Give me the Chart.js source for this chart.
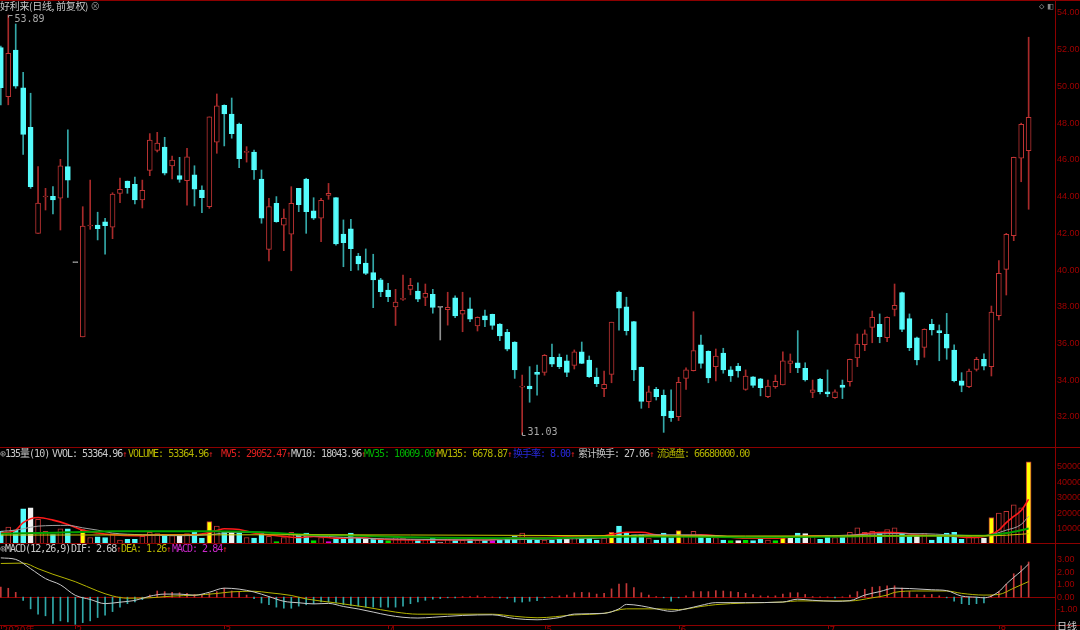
<!DOCTYPE html>
<html>
<head>
<meta charset="utf-8">
<script src="https://cdn.jsdelivr.net/npm/chart.js@4.4.1/dist/chart.umd.min.js"></script>
<style>
  body { margin: 0; background: #000; width: 1080px; height: 630px; overflow: hidden; position: relative; }
  canvas { position: absolute; left: 0; }
  .hl { position: absolute; left: 0; width: 1080px; height: 1px; background: #8c0000; }
  .vl { position: absolute; top: 0; left: 1055px; width: 1px; height: 630px; background: #8c0000; }
  .t { position: absolute; font: 10px "DejaVu Sans Mono", "Noto Sans CJK SC", monospace; line-height: 10px; white-space: nowrap; letter-spacing: -1px; z-index: 5; }
  .up { color: #e02020; font-size: 9px; letter-spacing: 0; }
</style>
</head>
<body>
<canvas id="price" width="1080" height="447" style="top:0"></canvas>
<canvas id="vol" width="1080" height="86" style="top:458px"></canvas>
<canvas id="macd" width="1080" height="75" style="top:555px"></canvas>
<div class="hl" style="top:0"></div>
<div class="hl" style="top:447px"></div>
<div class="hl" style="top:543px"></div>
<div class="hl" style="top:625px"></div>
<div class="vl"></div>
<div class="t" style="left:0;top:1px;color:#c8c8c8;font-family:'Noto Sans CJK SC';letter-spacing:-0.3px">好利来(日线, 前复权) <span style="color:#888">⊗</span></div>
<div class="t" style="left:1039px;top:1px;color:#888;font-size:9px">◇ ◧</div>
<div class="t" style="left:1057px;top:621px;color:#d0d0d0;font-family:'Noto Sans CJK SC';letter-spacing:0">日线</div>
<script>
"use strict";

// 好利来 日线 (前复权), 139 根 K 线
const opens = [52.11,49.44,51.98,49.93,47.77,42.00,43.98,44.02,43.91,45.63,
  40.40,36.36,42.40,42.45,42.62,42.33,44.18,44.85,44.67,43.82,
  45.43,46.52,46.70,45.67,45.14,44.87,45.18,44.36,43.45,46.96,
  48.97,48.50,47.95,46.41,46.43,44.96,41.13,43.63,42.44,41.95,
  44.45,44.96,43.22,42.83,44.07,43.94,41.96,42.24,40.76,40.38,
  39.86,39.47,38.91,37.99,38.40,38.95,38.86,38.51,38.68,37.97,
  37.84,38.48,37.59,37.89,36.95,37.50,37.59,37.06,36.61,36.08,
  33.62,33.68,34.43,34.43,35.25,35.25,35.05,34.81,35.54,35.10,
  34.17,33.54,34.32,38.80,38.00,37.19,34.70,32.83,33.50,33.18,
  32.32,32.01,34.10,34.52,35.92,35.57,34.74,35.48,34.56,34.77,
  33.50,34.19,34.07,33.10,33.65,33.75,34.92,34.94,34.65,33.34,
  34.05,33.37,33.05,33.74,33.92,35.21,35.93,36.88,37.04,36.31,
  37.86,38.77,37.35,36.31,35.79,37.04,36.70,36.50,35.64,33.96,
  33.65,34.59,35.14,34.74,37.51,40.04,41.87,46.09,46.50];
const highs = [52.20,53.89,53.40,50.77,49.63,45.63,44.45,44.54,46.03,47.63,
  40.40,43.45,44.90,43.15,42.82,44.21,45.01,44.85,45.07,44.90,
  47.43,47.50,47.23,46.21,46.14,46.63,45.68,44.58,48.34,49.59,
  49.00,49.37,48.00,46.72,46.54,45.45,43.90,44.00,43.32,44.54,
  44.45,45.00,43.94,43.91,44.72,43.95,42.73,42.76,40.91,41.15,
  40.86,39.55,39.28,38.95,39.73,39.55,39.31,39.24,38.95,37.97,
  38.79,38.59,38.79,38.48,37.45,37.82,37.60,37.08,36.77,36.10,
  34.28,34.74,34.83,35.40,35.97,35.43,35.37,35.65,36.08,35.32,
  34.66,34.50,37.16,38.85,38.52,37.20,34.72,33.68,33.61,33.47,
  33.47,34.16,34.68,37.73,36.46,35.60,35.70,35.74,34.74,34.92,
  34.56,34.20,34.10,34.01,34.28,35.54,35.43,36.70,34.95,34.01,
  34.10,34.56,33.47,34.01,35.15,36.52,36.74,37.77,37.61,37.45,
  39.24,38.80,37.61,36.35,36.80,37.32,37.01,37.64,35.92,34.41,
  34.60,35.25,35.43,38.04,40.51,42.00,46.15,48.00,52.68];
const lows = [48.99,49.00,49.90,46.30,44.45,42.00,43.27,43.05,42.18,43.96,
  40.40,36.36,42.22,41.64,40.86,41.71,43.67,44.18,43.60,43.38,
  45.14,46.43,45.18,44.96,44.78,43.54,43.49,43.12,43.36,46.36,
  46.76,47.18,45.57,45.88,44.94,42.55,40.50,42.60,41.05,39.96,
  43.18,42.00,42.75,41.54,43.85,41.36,40.18,39.96,40.00,39.75,
  37.95,38.55,38.28,36.98,38.35,38.65,38.28,38.06,37.65,36.19,
  37.00,37.41,36.64,37.19,36.68,36.91,36.77,36.15,35.60,34.10,
  31.03,32.80,33.19,34.27,34.74,34.63,34.19,34.61,34.90,34.15,
  33.65,33.10,33.86,36.73,36.46,33.97,32.47,32.50,32.92,31.16,
  31.75,31.80,33.50,34.50,34.65,33.86,33.96,34.38,33.93,34.16,
  33.45,33.61,33.15,33.05,33.56,33.75,34.41,34.41,33.95,33.05,
  33.25,33.10,33.01,33.00,33.68,34.74,35.61,36.04,36.04,36.10,
  37.50,36.64,35.61,34.83,35.25,36.46,35.06,35.14,33.90,33.37,
  33.60,34.50,34.56,34.23,37.28,38.64,41.60,44.81,43.31];
const closes = [49.93,51.80,50.02,47.39,44.54,43.65,44.02,43.82,45.67,44.89,
  40.40,42.40,42.45,42.25,42.42,44.14,44.40,44.48,43.82,44.34,
  47.08,46.92,45.27,45.99,44.94,46.16,44.41,43.94,48.34,48.95,
  48.50,47.43,46.06,46.45,45.45,42.83,43.45,42.63,42.83,43.63,
  43.56,43.18,42.82,43.80,44.18,41.42,41.49,41.16,40.33,39.82,
  39.46,38.82,38.55,38.26,38.42,39.17,38.42,38.73,37.97,37.97,
  37.97,37.50,37.81,37.32,37.43,37.29,36.99,36.41,35.69,34.56,
  33.68,33.53,34.32,35.36,34.87,34.74,34.43,35.54,34.92,34.19,
  33.81,33.78,37.16,37.92,36.70,34.56,32.85,33.37,33.10,32.05,
  31.96,33.89,34.56,35.61,34.92,34.12,35.32,34.56,34.23,34.50,
  34.23,33.72,33.59,33.68,33.94,35.05,35.05,34.67,34.01,33.47,
  33.37,33.25,33.37,33.61,35.14,35.97,36.52,37.43,36.37,37.43,
  38.08,36.77,35.77,35.10,36.77,36.74,36.59,35.74,33.97,33.72,
  34.50,35.14,34.77,37.71,39.82,41.95,46.14,47.94,48.32];
const volumes = [8250,11000,9000,22800,23500,16100,8250,6040,9870,9870,
  300,9400,4200,4600,4200,6700,2600,3100,3100,4900,
  7600,6700,6000,5400,5400,6700,7600,3800,14500,11600,
  8250,8250,7100,4200,3800,7600,4900,1500,4200,7600,
  6000,7100,2200,4200,1500,3800,3100,7100,3800,3100,
  3800,3100,2200,4200,3800,3100,2600,3100,3800,1200,
  3100,2600,2600,3100,2600,2600,2200,2600,3100,4900,
  7100,3100,2600,2600,2600,3100,3100,4900,4900,3800,
  2600,3800,7600,11600,7100,6000,6000,3800,2600,7100,
  4200,8700,6000,8200,5400,3800,4200,2600,2200,2200,
  2400,2200,3100,2600,2200,4900,4900,7100,6700,4900,
  3100,5400,4200,4600,7600,10500,7600,8200,6700,9400,
  10500,7100,5400,5400,6700,2600,5400,7100,7600,3100,
  4900,4200,3800,17200,20100,21200,25500,23500,53364.96];

// 成交量均线 (读图取样点: 所在 K 线序号 / 数值)
const mv5At = [0,2,3,5,7,9,11,13,15,18,22,26,29,30,32,34,37,40,42,45,48,51,55,60,65,69,72,77,81,84,86,88,90,92,94,97,100,104,107,109,113,116,119,121,123,127,130,132,134,135,136,137,138];
const mv5 = [7100,9000,13900,17200,15500,12700,9000,7100,6000,5400,6000,6000,8700,9900,9400,7100,5400,4200,4900,3800,4200,3100,2600,2600,2600,4200,4200,4900,5400,7600,7600,6000,4900,5400,6000,4900,3800,3800,4900,5400,4900,6700,7600,7100,6000,5400,4200,4900,9000,13900,17900,21700,29052.47];
const mv10At = [0,2,3,5,9,11,13,15,19,24,28,31,35,37,39,44,48,55,65,72,82,86,91,96,100,109,114,119,124,127,132,135,137,138];
const mv10 = [8250,9000,9900,11600,12100,10500,9000,7100,6000,5400,6000,7600,7600,7100,6000,4900,3800,3100,2600,3100,4200,6000,6000,5400,4200,4900,5800,6700,6700,6000,5400,9000,12700,18043.96];
const mv35At = [0,5,9,15,28,35,41,48,55,72,86,100,114,123,132,135,138];
const mv35 = [6700,7100,7600,8250,8250,7600,6000,5400,4400,3800,4900,4400,4900,5400,5400,7100,10009.00];
const mv135At = [0,40,70,100,132,135,137,138];
const mv135 = [5800,6000,5600,5200,5300,5700,6350,6678.87];

// MACD(12,26,9)
const difAt = [0,2,4,6,8,10,12,14,16,18,20,22,24,26,28,30,32,34,36,38,40,42,44,46,48,50,52,54,56,58,62,66,69,72,75,77,81,83,84,86,88,90,92,94,96,100,105,107,109,112,114,116,118,120,122,125,127,129,131,132,134,135,136,137,138];
const dif = [3.17,3.05,2.3,1.5,1.0,0.15,-0.18,-0.52,-0.4,-0.26,0.08,0.25,0.25,0.16,0.4,0.73,0.65,0.42,0.05,-0.33,-0.45,-0.54,-0.5,-0.75,-0.95,-1.2,-1.45,-1.62,-1.68,-1.62,-1.47,-1.42,-1.72,-1.82,-1.64,-1.36,-1.3,-0.94,-0.58,-0.7,-0.94,-1.14,-0.94,-0.66,-0.44,-0.44,-0.39,-0.16,-0.25,-0.33,-0.28,0.17,0.45,0.73,0.7,0.6,0.53,0.09,0.0,-0.05,0.45,1.06,1.6,2.1,2.68];
const deaAt = [0,3,5,7,10,13,15,17,20,23,26,29,31,34,36,39,41,45,49,53,56,60,66,69,72,77,81,84,88,91,94,96,100,105,107,114,117,119,120,123,127,129,132,134,136,138];
const dea = [2.72,2.75,2.3,1.85,1.25,0.5,0.1,-0.08,-0.05,0.09,0.16,0.3,0.43,0.48,0.36,0.14,-0.14,-0.46,-0.8,-1.2,-1.37,-1.37,-1.37,-1.54,-1.66,-1.43,-1.3,-0.94,-0.94,-1.0,-0.75,-0.6,-0.47,-0.39,-0.3,-0.3,-0.05,0.17,0.39,0.5,0.5,0.31,0.17,0.22,0.73,1.26];
const macdHist = [0.81,0.72,0.39,-0.25,-0.94,-1.36,-1.5,-2.11,-1.91,-2.0,
  -2.19,-2.05,-1.91,-1.64,-1.44,-1.16,-0.8,-0.52,-0.39,-0.2,
  0.17,0.5,0.45,0.39,0.36,0.31,0.22,0.17,0.31,0.45,
  0.72,0.5,0.39,0.17,-0.11,-0.47,-0.61,-0.8,-0.89,-0.89,
  -0.72,-0.61,-0.52,-0.39,-0.39,-0.47,-0.61,-0.66,-0.72,-0.8,
  -0.8,-0.8,-0.8,-0.8,-0.72,-0.52,-0.39,-0.25,-0.16,-0.11,
  -0.05,-0.05,0.05,0.05,0.11,0.05,0.02,-0.05,-0.1,-0.39,
  -0.39,-0.33,-0.27,-0.05,0.05,0.11,0.17,0.36,0.39,0.36,
  0.25,0.31,0.67,1.06,1.1,0.78,0.36,0.17,0.05,-0.05,
  -0.33,-0.05,0.11,0.45,0.45,0.45,0.53,0.5,0.45,0.39,
  0.31,0.22,0.11,0.09,0.11,0.25,0.36,0.36,0.22,0.05,
  0.03,0.03,-0.05,0.03,0.17,0.45,0.64,0.81,0.86,0.92,
  0.92,0.73,0.45,0.22,0.17,0.22,0.11,-0.05,-0.33,-0.52,
  -0.61,-0.52,-0.47,0.17,0.45,1.06,1.89,2.53,2.84];

// 坐标轴刻度
const priceTicks = [32,34,36,38,40,42,44,46,48,50,52,54];
const volTicks = [10000,20000,30000,40000,50000];
const macdTicks = [-1,0,1,2,3];
const monthAt = [0,10,30,52,73,91,111,134];
const monthLabels = ["2020年","2","3","4","5","6","7","8"];

// 量柱特殊着色
const yellowVol = [11,28,82,91,105,133,138];
const whiteVol = [4,24,31,49,76,99,106,108,123,132];
const greenVol = [37,42,52,98,100,104];
const magentaVol = [44,66];

const RED = "#c03434", RED_WICK = "#a82a2a", CYAN = "#54fcfc", CYAN_WICK = "#34a8a8";
const FLAT = "#909090", AXIS_TEXT = "#a00000";

const idx = closes.map((c, i) => i);
const dir = idx.map(i => closes[i] > opens[i] ? 1 : closes[i] < opens[i] ? -1 : 0);
const pts = (at, vals) => at.map((k, j) => ({ x: k, y: vals[j] }));

const xScale = { type: "linear", offset: false, min: -0.11, max: 141.54, display: false };
const baseOpts = {
  responsive: false,
  animation: false,
  devicePixelRatio: 1,
  events: [],
  layout: { padding: { left: 0, right: 25, top: 0, bottom: 0 } },
  plugins: { legend: { display: false }, tooltip: { enabled: false } }
};

function rightLabels(chart, ticks, fmt) {
  const { ctx, scales: { y }, chartArea } = chart;
  ctx.save();
  ctx.font = '9px "Liberation Sans"';
  ctx.fillStyle = AXIS_TEXT;
  ctx.textBaseline = "middle";
  ticks.forEach(v => ctx.fillText(fmt(v), chartArea.right + 2, y.getPixelForValue(v)));
  ctx.restore();
}

// ---------- K 线 ----------
const priceDecor = {
  id: "priceDecor",
  afterDraw(chart) {
    rightLabels(chart, priceTicks, v => v.toFixed(2));
    const { ctx, scales: { x, y } } = chart;
    const hi = highs.indexOf(Math.max(...highs));
    const lo = lows.indexOf(Math.min(...lows));
    ctx.save();
    ctx.strokeStyle = "#a0a0a0";
    ctx.fillStyle = "#a8a8a8";
    ctx.font = '10px "DejaVu Sans Mono"';
    ctx.textBaseline = "middle";
    let px = Math.round(x.getPixelForValue(hi)) + 0.5, py = Math.round(y.getPixelForValue(highs[hi])) + 0.5;
    ctx.beginPath(); ctx.moveTo(px, py + 2); ctx.lineTo(px, py); ctx.lineTo(px + 4, py); ctx.stroke();
    ctx.fillText(highs[hi].toFixed(2), px + 6, py + 4);
    px = Math.round(x.getPixelForValue(lo)) + 0.5; py = Math.round(y.getPixelForValue(lows[lo])) + 0.5;
    ctx.beginPath(); ctx.moveTo(px, py - 3); ctx.lineTo(px, py); ctx.lineTo(px + 3, py); ctx.stroke();
    ctx.fillText(lows[lo].toFixed(2), px + 5, py - 3);
    ctx.restore();
  }
};

new Chart(document.getElementById("price"), {
  type: "bar",
  data: {
    datasets: [
      {
        data: idx.map(i => ({ x: i, y: [lows[i], highs[i]] })),
        backgroundColor: idx.map(i => dir[i] > 0 ? RED_WICK : dir[i] < 0 ? CYAN_WICK : FLAT),
        borderWidth: 0, barThickness: 1, grouped: false, order: 2
      },
      {
        data: idx.map(i => ({ x: i, y: [opens[i], closes[i]] })),
        backgroundColor: idx.map(i => dir[i] > 0 ? "#000" : dir[i] < 0 ? CYAN : FLAT),
        borderColor: idx.map(i => dir[i] > 0 ? RED : dir[i] < 0 ? CYAN : FLAT),
        borderWidth: 1, borderSkipped: false, barThickness: 5, minBarLength: 1, grouped: false, order: 1
      }
    ]
  },
  options: Object.assign({}, baseOpts, {
    scales: { x: xScale, y: { display: false, min: 30.362, max: 54.708 } }
  }),
  plugins: [priceDecor]
});

// ---------- 成交量 ----------
function volFill(i) {
  if (yellowVol.includes(i)) return "#ffff00";
  if (whiteVol.includes(i)) return "#f0f0f0";
  if (greenVol.includes(i)) return "#00e000";
  if (magentaVol.includes(i)) return "#e000e0";
  return dir[i] > 0 ? "#000" : dir[i] < 0 ? CYAN : FLAT;
}
function volEdge(i) {
  if (yellowVol.includes(i)) return RED;
  if (whiteVol.includes(i) || greenVol.includes(i) || magentaVol.includes(i)) return volFill(i);
  return dir[i] > 0 ? RED : dir[i] < 0 ? CYAN : FLAT;
}
const mvLine = (data, color, w) => ({
  type: "line", data, borderColor: color, borderWidth: w, pointRadius: 0,
  cubicInterpolationMode: "monotone", order: 0
});

new Chart(document.getElementById("vol"), {
  type: "bar",
  data: {
    datasets: [
      {
        data: idx.map(i => ({ x: i, y: volumes[i] })),
        backgroundColor: idx.map(volFill),
        borderColor: idx.map(volEdge),
        borderWidth: 1, borderSkipped: false, barThickness: 5, grouped: false, order: 1
      },
      mvLine(pts(mv135At, mv135), "#c8c800", 1),
      mvLine(pts(mv35At, mv35), "#00a000", 2),
      mvLine(pts(mv10At, mv10), "#a0a0a0", 1),
      mvLine(pts(mv5At, mv5), "#ff1a1a", 1.6)
    ]
  },
  options: Object.assign({}, baseOpts, {
    scales: { x: xScale, y: { display: false, min: 0, max: 55844 } }
  }),
  plugins: [{ id: "volAxis", afterDraw: c => rightLabels(c, volTicks, v => String(v)) }]
});

// ---------- MACD ----------
const macdDecor = {
  id: "macdDecor",
  beforeDatasetsDraw(chart) {
    const { ctx, scales: { y }, chartArea } = chart;
    const y0 = Math.round(y.getPixelForValue(0)) + 0.5;
    ctx.save();
    ctx.strokeStyle = "#8c0000";
    ctx.beginPath(); ctx.moveTo(chartArea.left, y0); ctx.lineTo(chartArea.right, y0); ctx.stroke();
    ctx.restore();
  },
  afterDraw(chart) {
    rightLabels(chart, macdTicks, v => v.toFixed(2));
    const { ctx, scales: { x }, chartArea } = chart;
    ctx.save();
    ctx.strokeStyle = "#8c0000";
    ctx.fillStyle = AXIS_TEXT;
    ctx.font = '9px "DejaVu Sans", "Noto Sans CJK SC"';
    ctx.textBaseline = "top";
    monthAt.forEach((k, j) => {
      const px = Math.round(x.getPixelForValue(k)) + 0.5;
      ctx.beginPath(); ctx.moveTo(px, chartArea.bottom); ctx.lineTo(px, chartArea.bottom + 4); ctx.stroke();
      ctx.fillText(monthLabels[j], Math.max(px + 1, 0), chartArea.bottom + 1);
    });
    ctx.restore();
  }
};

new Chart(document.getElementById("macd"), {
  type: "bar",
  data: {
    datasets: [
      {
        data: idx.map(i => ({ x: i, y: macdHist[i] })),
        backgroundColor: idx.map(i => macdHist[i] >= 0 ? "#c43838" : "#30a8a8"),
        borderWidth: 0, barThickness: 1, grouped: false, order: 2
      },
      { type: "line", data: pts(deaAt, dea), borderColor: "#b4b400", borderWidth: 1, pointRadius: 0, cubicInterpolationMode: "monotone", order: 1 },
      { type: "line", data: pts(difAt, dif), borderColor: "#c8c8c8", borderWidth: 1, pointRadius: 0, cubicInterpolationMode: "monotone", order: 0 }
    ]
  },
  options: Object.assign({}, baseOpts, {
    layout: { padding: { left: 0, right: 25, top: 0, bottom: 5 } },
    scales: { x: xScale, y: { display: false, min: -2.242, max: 3.403 } }
  }),
  plugins: [macdDecor]
});

// ---------- 指标标题 ----------
const last = volumes.length - 1;
const f2 = v => v.toFixed(2);
function addText(x, y, parts) {
  const d = document.createElement("div");
  d.className = "t";
  d.style.left = x + "px";
  d.style.top = y + "px";
  parts.forEach(([txt, color]) => {
    const s = document.createElement("span");
    s.textContent = txt;
    s.style.color = color;
    if (txt === "↑") s.className = "up";
    d.appendChild(s);
  });
  document.body.appendChild(d);
}
const GRAY = "#c8c8c8", OLIVE = "#b4b400";
addText(0, 449, [["⊛", "#888"], ["135量(10)", GRAY]]);
addText(52, 449, [["VVOL: " + f2(volumes[last]), GRAY], ["↑"]]);
addText(128, 449, [["VOLUME: " + f2(volumes[last]), OLIVE], ["↑"]]);
addText(221, 449, [["MV5: " + f2(mv5[mv5.length - 1]), "#e02020"], ["↑"]]);
addText(291, 449, [["MV10: " + f2(mv10[mv10.length - 1]), GRAY], ["↑"]]);
addText(364, 449, [["MV35: " + f2(mv35[mv35.length - 1]), "#00b400"], ["↑"]]);
addText(437, 449, [["MV135: " + f2(mv135[mv135.length - 1]), OLIVE], ["↑"]]);
addText(513, 449, [["换手率: 8.00", "#2828d8"], ["↑"]]);
addText(578, 449, [["累计换手: 27.06", GRAY], ["↑"]]);
addText(657, 449, [["流通盘: 66680000.00", OLIVE]]);
addText(0, 544, [["⊛", "#888"], ["MACD(12,26,9)", GRAY]]);
addText(71, 544, [["DIF: " + f2(dif[dif.length - 1]), GRAY], ["↑"]]);
addText(121, 544, [["DEA: " + f2(dea[dea.length - 1]), OLIVE], ["↑"]]);
addText(172, 544, [["MACD: " + f2(macdHist[last]), "#c828c8"], ["↑"]]);
</script>
</body>
</html>
